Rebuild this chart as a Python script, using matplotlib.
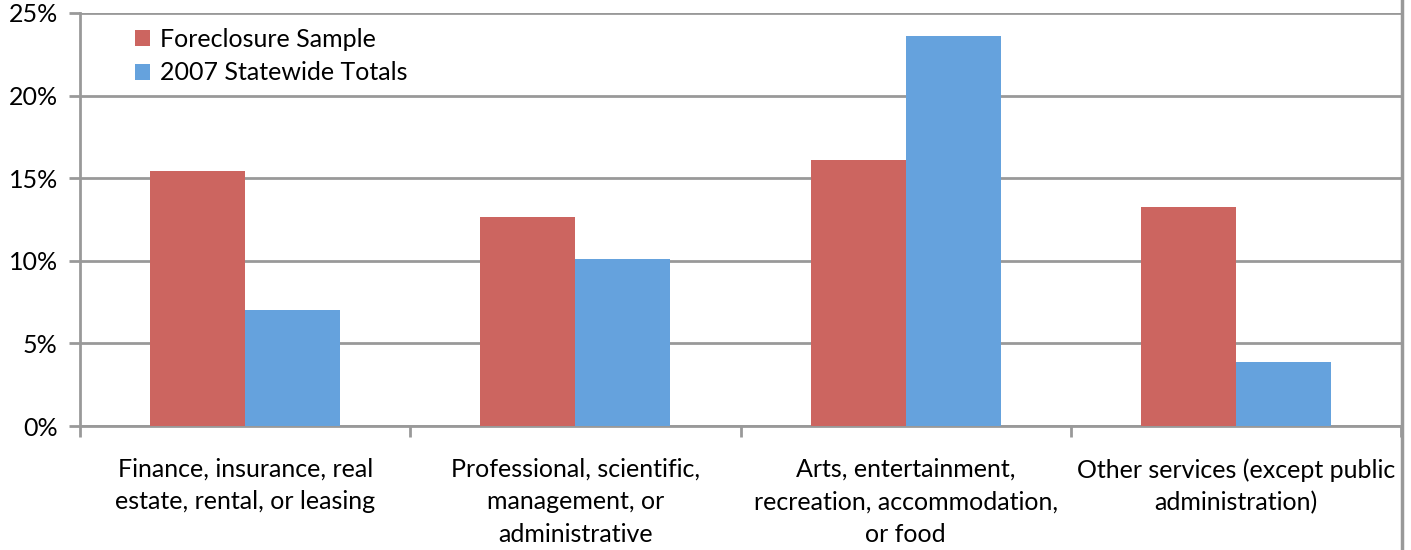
import numpy as np
import matplotlib.pyplot as plt
from matplotlib.ticker import PercentFormatter

categories = [
    "Finance, insurance, real\nestate, rental, or leasing",
    "Professional, scientific,\nmanagement, or\nadministrative",
    "Arts, entertainment,\nrecreation, accommodation,\nor food",
    "Other services (except public\nadministration)",
]
foreclosure = [15.45, 12.65, 16.1, 13.25]
statewide = [7.0, 10.1, 23.6, 3.9]
series_names = ["Foreclosure Sample", "2007 Statewide Totals"]

red = "#cc6560"
blue = "#65a2dd"
grey = "#999999"

plt.rcParams['font.family'] = ['Lato', 'DejaVu Sans']
fs = 18

fig = plt.figure(figsize=(14.11, 5.5), dpi=100)
ax = fig.add_axes([80 / 1411, 1 - 426 / 550, 1321 / 1411, 413 / 550])

x = np.arange(len(categories))
w = 0.288
ax.bar(x - w / 2, foreclosure, w, color=red, label=series_names[0], zorder=3)
ax.bar(x + w / 2, statewide, w, color=blue, label=series_names[1], zorder=3)

ax.set_xlim(-0.5, len(categories) - 0.5)
ax.set_ylim(0, 25)
ax.set_yticks(np.arange(0, 26, 5))
ax.yaxis.set_major_formatter(PercentFormatter(decimals=0))
ax.grid(axis='y', color=grey, linewidth=2, zorder=0)

# category boundaries get the tick marks, centres get the labels
ax.set_xticks(np.arange(-0.5, len(categories) + 0.5, 1))
ax.set_xticklabels([])
ax.set_xticks(x, categories, minor=True)
ax.tick_params(axis='x', which='minor', length=0, pad=23, labelsize=fs)
ax.tick_params(axis='x', which='major', length=8, width=2, color=grey, direction='out')
ax.tick_params(axis='y', length=8, width=2, color=grey, labelsize=fs, pad=8)
for lbl in ax.get_xticklabels(minor=True):
    lbl.set_linespacing(1.5)

for side in ['top', 'right']:
    ax.spines[side].set_visible(False)
for side in ['left', 'bottom']:
    ax.spines[side].set_color(grey)
    ax.spines[side].set_linewidth(2)

# outer chart border on the right
fig.add_artist(plt.Line2D([1401.5 / 1411] * 2, [0, 1], color=grey, linewidth=2.5,
                          transform=fig.transFigure))

ax.legend(loc='upper left', bbox_to_anchor=(0.03, 1.0), frameon=False,
          fontsize=fs, handlelength=0.6, handleheight=0.6, handletextpad=0.4,
          labelspacing=0.42, borderaxespad=0.2)

fig.savefig("out.png", dpi=100, facecolor='white')
